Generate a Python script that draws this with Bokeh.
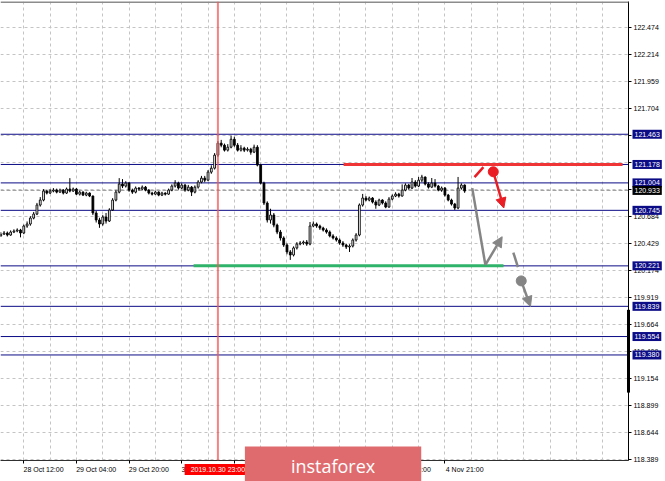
from bokeh.plotting import figure
from bokeh.models import (Range1d, FixedTicker, Span, Arrow, NormalHead,
                          ColumnDataSource, PrintfTickFormatter)
from bokeh.embed import file_html
from bokeh.resources import INLINE
from bokeh.core.properties import value

# ---------------- data ----------------
bar_index = list(range(-7, 135))   # H1 bars, 0 = 28 Oct 12:00

opens = [
    120.503, 120.521, 120.531, 120.512, 120.540, 120.550, 120.559,
    120.531, 120.597, 120.616, 120.672, 120.710, 120.795, 120.842, 120.927, 120.908, 120.927,
    120.936, 120.917, 120.936, 120.908, 120.946, 120.927, 120.946, 120.898, 120.917, 120.889,
    120.908, 120.880, 120.720, 120.654, 120.616, 120.682, 120.644, 120.748, 120.842, 120.917,
    120.993, 120.974, 121.002, 120.936, 120.917, 120.955, 120.946, 120.964, 120.936, 120.908,
    120.898, 120.917, 120.889, 120.908, 120.898, 120.936, 120.974, 121.002, 120.955, 120.983,
    120.936, 120.964, 120.917, 120.964, 121.012, 121.049, 121.030, 121.106, 121.143, 121.266,
    121.379, 121.360, 121.313, 121.341, 121.416, 121.360, 121.313, 121.332, 121.313, 121.322,
    121.294, 121.341, 121.172, 121.002, 120.814, 120.654, 120.701, 120.606, 120.540, 120.484,
    120.418, 120.352, 120.324, 120.390, 120.427, 120.437, 120.446, 120.427, 120.597, 120.616,
    120.597, 120.578, 120.559, 120.540, 120.503, 120.484, 120.465, 120.437, 120.418, 120.399,
    120.408, 120.465, 120.512, 120.795, 120.861, 120.842, 120.861, 120.823, 120.795, 120.842,
    120.814, 120.776, 120.851, 120.880, 120.898, 120.880, 120.936, 120.983, 120.955, 121.012,
    120.974, 121.030, 121.059, 120.993, 120.964, 121.002, 120.974, 120.936, 120.955, 120.889,
    120.842, 120.804, 120.767, 120.955, 120.983,
]
closes = [
    120.521, 120.531, 120.512, 120.540, 120.550, 120.559, 120.531,
    120.597, 120.616, 120.672, 120.710, 120.795, 120.842, 120.927, 120.908, 120.927, 120.936,
    120.917, 120.936, 120.908, 120.946, 120.927, 120.946, 120.898, 120.917, 120.889, 120.908,
    120.880, 120.720, 120.654, 120.616, 120.682, 120.644, 120.748, 120.842, 120.917, 120.993,
    120.974, 121.002, 120.936, 120.917, 120.955, 120.946, 120.964, 120.936, 120.908, 120.898,
    120.917, 120.889, 120.908, 120.898, 120.936, 120.974, 121.002, 120.955, 120.983, 120.936,
    120.964, 120.917, 120.964, 121.012, 121.049, 121.030, 121.106, 121.143, 121.266, 121.379,
    121.360, 121.313, 121.341, 121.416, 121.360, 121.313, 121.332, 121.313, 121.322, 121.294,
    121.341, 121.172, 121.002, 120.814, 120.654, 120.701, 120.606, 120.540, 120.484, 120.418,
    120.352, 120.324, 120.390, 120.427, 120.437, 120.446, 120.427, 120.597, 120.616, 120.597,
    120.578, 120.559, 120.540, 120.503, 120.484, 120.465, 120.437, 120.418, 120.399, 120.408,
    120.465, 120.512, 120.795, 120.861, 120.842, 120.861, 120.823, 120.795, 120.842, 120.814,
    120.776, 120.851, 120.880, 120.898, 120.880, 120.936, 120.983, 120.955, 121.012, 120.974,
    121.030, 121.059, 120.993, 120.964, 121.002, 120.974, 120.936, 120.955, 120.889, 120.842,
    120.804, 120.767, 120.955, 120.983, 120.927,
]
highs = [
    120.540, 120.550, 120.545, 120.556, 120.566, 120.575, 120.570,
    120.610, 120.640, 120.690, 120.730, 120.815, 120.870, 120.945, 120.940, 120.945, 120.955,
    120.950, 120.950, 120.945, 120.960, 121.049, 120.960, 120.955, 120.930, 120.925, 120.920,
    120.915, 120.885, 120.740, 120.675, 120.700, 120.720, 120.765, 120.860, 120.935, 121.049,
    121.040, 121.020, 121.010, 120.950, 120.970, 120.965, 120.980, 120.975, 120.945, 120.920,
    120.930, 120.925, 120.920, 120.915, 120.950, 120.990, 121.030, 121.015, 121.000, 120.995,
    120.985, 120.975, 120.980, 121.030, 121.070, 121.070, 121.125, 121.170, 121.285, 121.400,
    121.410, 121.375, 121.370, 121.450, 121.440, 121.380, 121.360, 121.345, 121.340, 121.335,
    121.365, 121.360, 121.185, 121.015, 120.830, 120.760, 120.720, 120.620, 120.560, 120.500,
    120.435, 120.370, 120.405, 120.445, 120.455, 120.460, 120.465, 120.635, 120.640, 120.630,
    120.610, 120.590, 120.575, 120.555, 120.520, 120.500, 120.480, 120.455, 120.430, 120.425,
    120.480, 120.530, 120.810, 120.900, 120.880, 120.875, 120.870, 120.840, 120.855, 120.850,
    120.830, 120.870, 120.895, 120.915, 120.910, 120.990, 121.000, 120.995, 121.050, 121.030,
    121.060, 121.080, 121.065, 121.010, 121.050, 121.040, 120.985, 120.970, 120.965, 120.900,
    120.855, 120.815, 121.060, 121.000, 120.990,
]
lows = [
    120.494, 120.512, 120.498, 120.505, 120.530, 120.538, 120.490,
    120.520, 120.580, 120.600, 120.660, 120.700, 120.780, 120.830, 120.895, 120.900, 120.915,
    120.905, 120.910, 120.895, 120.900, 120.915, 120.920, 120.890, 120.885, 120.880, 120.878,
    120.870, 120.700, 120.630, 120.580, 120.600, 120.620, 120.635, 120.740, 120.830, 120.905,
    120.955, 120.960, 120.920, 120.900, 120.905, 120.930, 120.935, 120.925, 120.895, 120.885,
    120.890, 120.878, 120.880, 120.885, 120.890, 120.925, 120.960, 120.940, 120.945, 120.920,
    120.925, 120.880, 120.905, 120.950, 121.000, 121.010, 121.020, 121.090, 121.130, 121.250,
    121.340, 121.300, 121.300, 121.330, 121.345, 121.300, 121.300, 121.295, 121.300, 121.270,
    121.285, 121.160, 120.990, 120.795, 120.630, 120.620, 120.585, 120.520, 120.460, 120.400,
    120.330, 120.277, 120.310, 120.375, 120.415, 120.420, 120.410, 120.415, 120.585, 120.580,
    120.560, 120.545, 120.525, 120.490, 120.470, 120.450, 120.420, 120.400, 120.380, 120.352,
    120.395, 120.450, 120.500, 120.780, 120.830, 120.830, 120.810, 120.760, 120.785, 120.800,
    120.765, 120.770, 120.840, 120.870, 120.865, 120.875, 120.925, 120.940, 120.945, 120.960,
    120.965, 121.010, 120.980, 120.950, 120.955, 120.960, 120.925, 120.920, 120.875, 120.830,
    120.790, 120.748, 120.755, 120.940, 120.910,
]

time_tick_bars = [0, 16, 32, 48, 64, 80, 96, 112, 128]
time_tick_labels = ["28 Oct 12:00", "29 Oct 04:00", "29 Oct 20:00", "30 Oct 12:00",
                    "31 Oct 04:00", "31 Oct 20:00", "1 Nov 12:00", "4 Nov 05:00", "4 Nov 21:00"]
grid_bars = [0, 8, 16, 24, 32, 40, 48, 56, 64, 72, 80, 88, 96, 104, 112, 120, 128,
             136, 144, 152, 160, 168, 176]

price_ticks = [118.389, 118.644, 118.899, 119.154, 119.409, 119.664, 119.919, 120.174,
               120.429, 120.684, 120.939, 121.194, 121.449, 121.704, 121.959, 122.214, 122.474]

level_values = [121.463, 121.178, 121.004, 120.745, 120.221, 119.839, 119.554, 119.380]
current_price = 120.933

vline_bar = 59
vline_label = "2019.10.30 23:00"

resist_price = 121.178
resist_bars = [97.2, 182.0]
support_price = 120.221
support_bars = [51.6, 145.8]

red_dash_x = [137.0, 139.7]
red_dash_y = [121.059, 121.153]
red_dot_x = [142.7]
red_dot_y = [121.109]
red_arrow_end = [145.9, 120.767]

gray_path_x = [136.3, 140.3, 145.4]
gray_path_y = [120.955, 120.230, 120.496]
gray_dash_x = [148.8, 150.2]
gray_dash_y = [120.346, 120.208]
gray_dot_x = [151.2]
gray_dot_y = [120.079]
gray_arrow_end = [154.0, 119.837]

scale_bar_y = [119.806, 119.025]

logo_text = "instaforex"
logo_bar = 94

# ---------------- figure ----------------
FONT = "Liberation Sans"
NAVY = "#0c0c86"

x_lo, x_hi = -7.08, 183.8
y_lo, y_hi = 118.384, 122.716

p = figure(width=665, height=481, output_backend="svg", toolbar_location=None,
           x_range=Range1d(x_lo, x_hi), y_range=Range1d(y_lo, y_hi),
           y_axis_location="right",
           min_border_left=0, min_border_top=1, min_border_right=37, min_border_bottom=21)
p.outline_line_color = None
p.background_fill_color = "white"
p.border_fill_color = "white"

LABEL_SHIFT = 6
xaxis = p.xaxis[0]
xaxis.ticker = FixedTicker(ticks=[b + LABEL_SHIFT for b in time_tick_bars],
                           minor_ticks=time_tick_bars)
xaxis.major_label_overrides = {b + LABEL_SHIFT: t for b, t in zip(time_tick_bars, time_tick_labels)}
xaxis.major_tick_out = 0
xaxis.major_tick_in = 0
xaxis.minor_tick_out = 3
xaxis.minor_tick_in = 0
xaxis.minor_tick_line_color = "black"
xaxis.axis_line_color = "#303030"
xaxis.major_label_standoff = 2
xaxis.major_label_text_font = FONT
xaxis.major_label_text_font_size = "7px"
xaxis.major_label_text_color = "black"

yaxis = p.yaxis[0]
yaxis.ticker = FixedTicker(ticks=price_ticks)
yaxis.formatter = PrintfTickFormatter(format="%.3f")
yaxis.major_tick_out = 3
yaxis.major_tick_in = 0
yaxis.minor_tick_out = 0
yaxis.minor_tick_in = 0
yaxis.major_tick_line_color = "black"
yaxis.axis_line_color = "black"
yaxis.major_label_standoff = 2
yaxis.major_label_text_font = FONT
yaxis.major_label_text_font_size = "7px"
yaxis.major_label_text_color = "black"

p.xgrid.ticker = FixedTicker(ticks=grid_bars)
p.ygrid.ticker = FixedTicker(ticks=price_ticks)
for g in (p.xgrid[0], p.ygrid[0]):
    g.grid_line_color = "#c4c4c4"
    g.grid_line_dash = "3 3"
    g.grid_line_width = 1

# top border
p.add_layout(Span(location=y_hi, dimension="width", line_color="#8c8c8c", line_width=3))

# horizontal levels (behind the candles)
for lv in level_values:
    p.add_layout(Span(location=lv, dimension="width", line_color=NAVY, line_width=1,
                      level="underlay"))
p.add_layout(Span(location=current_price, dimension="width", line_color="#9a9a9a",
                  line_width=1, line_dash="4 2", level="underlay"))

# candles
src = ColumnDataSource(dict(
    x=bar_index, o=opens, h=highs, l=lows, c=closes,
    top=[max(a, b) for a, b in zip(opens, closes)],
    bottom=[min(a, b) for a, b in zip(opens, closes)],
    fill=["white" if c >= o else "black" for o, c in zip(opens, closes)],
))
p.segment(x0="x", y0="h", x1="x", y1="l", source=src, line_color="black", line_width=1)
p.vbar(x="x", width=0.55, top="top", bottom="bottom", source=src,
       fill_color="fill", line_color="black", line_width=0.9)

# vertical time marker
p.add_layout(Span(location=vline_bar, dimension="height", line_color="#f05a5a",
                  line_width=2, line_alpha=0.75))

# resistance / support
p.line(resist_bars, [resist_price, resist_price], line_color="#ef3535", line_width=3)
p.line(support_bars, [support_price, support_price], line_color="#2fb36a", line_width=3)

# scenario arrows
RED = "#ea1c24"
GRAY = "#858585"
p.line(red_dash_x, red_dash_y, line_color=RED, line_width=2.5)
p.scatter(red_dot_x, red_dot_y, size=10, color=RED)
p.add_layout(Arrow(end=NormalHead(size=10, fill_color=RED, line_color=RED),
                   x_start=red_dot_x[0], y_start=red_dot_y[0],
                   x_end=red_arrow_end[0], y_end=red_arrow_end[1],
                   line_color=RED, line_width=2.5))
p.line(gray_path_x[:2], gray_path_y[:2], line_color=GRAY, line_width=2.5)
p.add_layout(Arrow(end=NormalHead(size=10, fill_color=GRAY, line_color=GRAY),
                   x_start=gray_path_x[1], y_start=gray_path_y[1],
                   x_end=gray_path_x[2], y_end=gray_path_y[2],
                   line_color=GRAY, line_width=2.5))
p.line(gray_dash_x, gray_dash_y, line_color=GRAY, line_width=2.5)
p.scatter(gray_dot_x, gray_dot_y, size=10, color=GRAY)
p.add_layout(Arrow(end=NormalHead(size=10, fill_color=GRAY, line_color=GRAY),
                   x_start=gray_dot_x[0], y_start=gray_dot_y[0],
                   x_end=gray_arrow_end[0], y_end=gray_arrow_end[1],
                   line_color=GRAY, line_width=2.5))

# black bar on the price scale
p.line([x_hi, x_hi], scale_bar_y, line_color="black", line_width=3, level="overlay")

# ---- texts drawn on top of the axes (overlay level) ----
box_vals = level_values + [current_price]
box_src = ColumnDataSource(dict(
    x=[x_hi] * len(box_vals), y=box_vals,
    t=[f"{v:.3f}" for v in box_vals],
    bg=[NAVY] * len(level_values) + ["black"],
))
p.text(x="x", y="y", text="t", source=box_src, x_offset=4,
       text_font=value(FONT), text_font_size="7px", text_color="white",
       text_align="left", text_baseline="middle",
       background_fill_color="bg", padding=2, level="overlay")

p.text(x=[vline_bar], y=[y_lo], text=[vline_label], y_offset=9,
       text_font=value(FONT), text_font_size="7px", text_color="white",
       text_align="center", text_baseline="middle",
       background_fill_color="#ff0000", padding=(6, 2), level="overlay")

p.text(x=[logo_bar], y=[y_lo], text=[logo_text], y_offset=5,
       text_font=value("Open Sans"), text_font_size="18px", text_color="white",
       text_align="center", text_baseline="middle",
       background_fill_color="#e06b6e", padding=(46, 7), level="overlay")

open("out.html", "w").write(file_html(p, INLINE))
